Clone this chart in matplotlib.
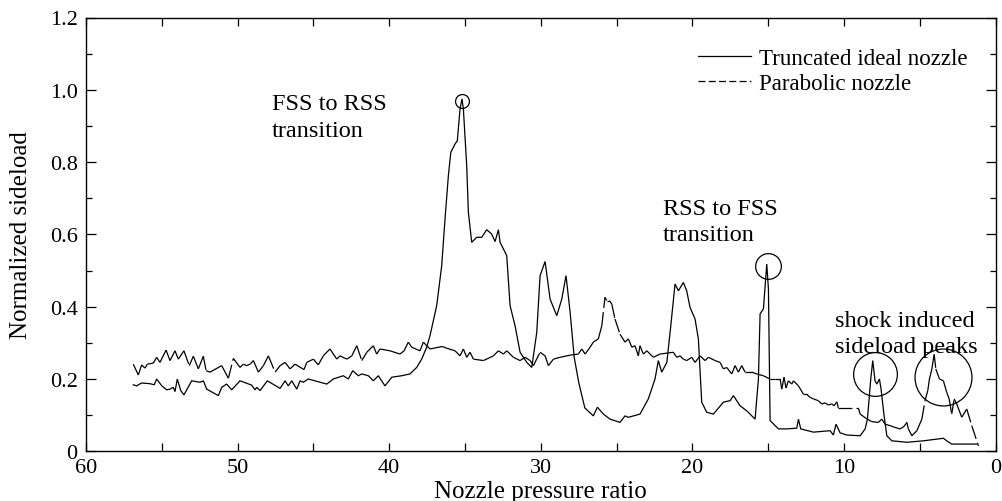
import matplotlib
matplotlib.use("Agg")
import matplotlib.pyplot as plt
from matplotlib.collections import LineCollection
from matplotlib.lines import Line2D
import numpy as np

plt.rcParams['font.family'] = ['Liberation Serif', 'DejaVu Serif']
plt.rcParams['lines.scale_dashes'] = False

# ---- data: truncated ideal nozzle (solid) ----
ideal_npr = [56.88, 56.66, 56.33, 55.78, 55.50, 55.34, 55.00, 54.68, 54.46, 54.24, 54.13, 53.98,
             53.75, 53.54, 53.03, 52.48, 52.26, 52.04, 51.27, 51.05, 50.72, 50.39, 49.84, 49.07,
             48.85, 48.74, 48.52, 48.04, 47.20, 46.87, 46.66, 46.43, 46.10, 45.88, 45.67, 45.34,
             44.12, 43.69, 43.03, 42.70, 42.41, 42.04, 41.81, 41.38, 41.05, 40.72, 40.28, 39.83,
             39.18, 38.63, 38.19, 37.86, 37.53, 37.31, 36.87, 36.54, 36.32, 36.10, 35.94, 35.66,
             35.51, 35.33, 35.20, 35.11, 34.89, 34.78, 34.56, 34.23, 33.90, 33.57, 33.24, 33.02,
             32.80, 32.69, 32.47, 32.25, 32.03, 31.70, 31.37, 30.93, 30.60, 30.27, 30.05, 29.72,
             29.39, 28.95, 28.62, 28.34, 28.07, 27.80, 27.50, 27.10, 26.54, 26.27, 25.88, 25.44,
             24.78, 24.45, 24.23, 23.46, 22.91, 22.47, 22.25, 22.03, 21.69, 21.43, 21.15, 20.93,
             20.60, 20.38, 20.16, 19.83, 19.61, 19.39, 19.06, 18.62, 17.96, 17.52, 17.30, 16.86,
             16.42, 15.87, 15.65, 15.54, 15.32, 15.10, 14.99, 14.88, 14.33, 13.78, 13.12, 13.01,
             12.86, 12.02, 10.92, 10.71, 10.53, 10.26, 9.82, 8.94, 8.61, 8.46, 8.33, 8.24,
             8.11, 7.96, 7.84, 7.67, 7.56, 7.36, 7.18, 6.85, 5.86, 4.77, 3.45, 3.23,
             2.90, 1.25]
ideal_load = [0.184, 0.181, 0.189, 0.187, 0.184, 0.200, 0.181, 0.170, 0.172, 0.177, 0.165, 0.200,
              0.168, 0.156, 0.195, 0.191, 0.195, 0.172, 0.154, 0.177, 0.186, 0.170, 0.195, 0.183,
              0.170, 0.177, 0.168, 0.195, 0.174, 0.195, 0.181, 0.195, 0.172, 0.195, 0.191, 0.200,
              0.186, 0.200, 0.209, 0.200, 0.223, 0.209, 0.214, 0.209, 0.195, 0.209, 0.181, 0.205,
              0.209, 0.214, 0.232, 0.255, 0.288, 0.320, 0.403, 0.513, 0.643, 0.762, 0.827, 0.850,
              0.859, 0.947, 0.975, 0.947, 0.790, 0.661, 0.578, 0.592, 0.592, 0.613, 0.601, 0.580,
              0.613, 0.578, 0.560, 0.541, 0.403, 0.347, 0.274, 0.246, 0.232, 0.329, 0.486, 0.525,
              0.421, 0.375, 0.421, 0.486, 0.385, 0.260, 0.190, 0.120, 0.098, 0.122, 0.103, 0.089,
              0.080, 0.098, 0.094, 0.103, 0.145, 0.200, 0.251, 0.219, 0.246, 0.347, 0.463, 0.444,
              0.467, 0.444, 0.398, 0.366, 0.311, 0.136, 0.108, 0.103, 0.136, 0.140, 0.154, 0.126,
              0.112, 0.089, 0.200, 0.380, 0.394, 0.518, 0.449, 0.085, 0.062, 0.062, 0.064, 0.089,
              0.062, 0.053, 0.057, 0.045, 0.075, 0.051, 0.045, 0.043, 0.062, 0.089, 0.154, 0.200,
              0.251, 0.195, 0.186, 0.200, 0.172, 0.098, 0.043, 0.029, 0.025, 0.029, 0.036, 0.029,
              0.020, 0.020]

# ---- data: parabolic nozzle (dashed) ----
para_npr = [56.88, 56.55, 56.33, 56.11, 55.96, 55.56, 55.34, 55.12, 54.72, 54.46, 54.13, 53.91,
            53.54, 53.19, 52.92, 52.59, 52.26, 52.08, 51.82, 51.05, 50.61, 50.28, 49.84, 49.62,
            49.40, 49.18, 48.96, 48.63, 48.30, 47.97, 47.53, 47.20, 46.87, 46.54, 46.21, 45.62,
            45.44, 45.00, 44.68, 44.35, 43.91, 43.46, 43.25, 42.80, 42.47, 42.14, 41.81, 41.48,
            41.05, 40.83, 40.61, 39.95, 39.29, 39.02, 38.74, 38.52, 37.97, 37.75, 37.53, 37.31,
            36.50, 36.20, 35.66, 35.33, 35.11, 34.89, 34.67, 34.45, 33.79, 33.13, 32.80, 32.47,
            32.25, 31.81, 31.37, 31.04, 30.71, 30.49, 30.05, 29.72, 29.50, 29.17, 28.73, 28.07,
            27.53, 27.30, 27.08, 26.75, 26.54, 26.21, 25.98, 25.77, 25.66, 25.48, 25.32, 25.11,
            24.78, 24.45, 24.23, 24.00, 23.79, 23.57, 23.46, 23.24, 23.01, 22.68, 22.58, 22.14,
            21.26, 21.04, 20.82, 20.60, 20.38, 20.05, 19.83, 19.50, 19.17, 18.95, 18.51, 18.18,
            17.96, 17.74, 17.41, 17.19, 16.97, 16.75, 16.53, 16.09, 15.76, 15.32, 14.88, 14.55,
            14.22, 14.11, 13.96, 13.83, 13.67, 13.45, 13.34, 13.01, 12.68, 12.46, 12.24, 12.02,
            11.70, 11.47, 11.25, 11.04, 10.81, 10.66, 10.48, 10.38, 9.06, 8.94, 8.55, 8.17,
            7.74, 7.51, 7.30, 6.97, 6.64, 6.31, 6.04, 5.86, 5.76, 5.53, 5.20, 4.87,
            4.66, 4.48, 4.37, 4.21, 4.06, 3.95, 3.71, 3.45, 3.23, 3.07, 2.90, 2.74,
            2.57, 2.24, 1.91, 1.58, 1.14]
para_load = [0.241, 0.211, 0.239, 0.230, 0.241, 0.244, 0.260, 0.246, 0.280, 0.251, 0.278, 0.255,
             0.278, 0.237, 0.263, 0.228, 0.263, 0.223, 0.219, 0.237, 0.202, 0.257, 0.232, 0.241,
             0.237, 0.241, 0.251, 0.219, 0.237, 0.264, 0.219, 0.237, 0.246, 0.228, 0.241, 0.226,
             0.246, 0.255, 0.239, 0.264, 0.283, 0.255, 0.264, 0.255, 0.264, 0.292, 0.251, 0.274,
             0.292, 0.269, 0.283, 0.278, 0.269, 0.278, 0.302, 0.288, 0.278, 0.302, 0.292, 0.283,
             0.290, 0.285, 0.278, 0.264, 0.283, 0.260, 0.274, 0.255, 0.251, 0.264, 0.278, 0.269,
             0.278, 0.260, 0.251, 0.260, 0.251, 0.237, 0.274, 0.264, 0.237, 0.255, 0.260, 0.266,
             0.269, 0.283, 0.269, 0.288, 0.302, 0.311, 0.347, 0.426, 0.417, 0.417, 0.407, 0.366,
             0.324, 0.302, 0.311, 0.288, 0.292, 0.264, 0.292, 0.269, 0.278, 0.264, 0.260, 0.269,
             0.274, 0.260, 0.264, 0.255, 0.251, 0.260, 0.246, 0.264, 0.251, 0.260, 0.251, 0.246,
             0.228, 0.232, 0.214, 0.237, 0.219, 0.237, 0.219, 0.219, 0.214, 0.209, 0.200, 0.200,
             0.200, 0.172, 0.205, 0.175, 0.195, 0.186, 0.195, 0.181, 0.158, 0.158, 0.149, 0.145,
             0.140, 0.131, 0.134, 0.128, 0.131, 0.126, 0.137, 0.120, 0.120, 0.103, 0.091, 0.082,
             0.080, 0.089, 0.075, 0.071, 0.066, 0.062, 0.069, 0.080, 0.062, 0.043, 0.057, 0.089,
             0.140, 0.168, 0.200, 0.228, 0.269, 0.228, 0.200, 0.195, 0.163, 0.145, 0.103, 0.145,
             0.131, 0.094, 0.117, 0.071, 0.015]

# annotation circles (npr, load, diameter in points)
circle_npr = [35.22, 14.99, 7.96, 3.45]
circle_load = [0.970, 0.513, 0.214, 0.205]
circle_size = [10, 18.5, 31.5, 41]

legend_labels = ["Truncated ideal nozzle", "Parabolic nozzle"]

FS_TICK = 16
FS_ANN = 17.5
FS_LAB = 18
FS_LEG = 16.6

fig = plt.figure(figsize=(10.03, 5.02), dpi=100)
ax = fig.add_axes([86/1003, 1-452.3/502, (995.7-86)/1003, (452.3-18.5)/502])

ax.plot(ideal_npr, ideal_load, color='black', lw=0.9, solid_joinstyle='miter')

pts = np.column_stack([para_npr, para_load])
segs = np.stack([pts[:-1], pts[1:]], axis=1)
lc = LineCollection(segs, colors='black', linewidths=0.9, linestyles=[(0, (10, 3))])
ax.add_collection(lc)

for cx, cy, cs in zip(circle_npr, circle_load, circle_size):
    ax.plot([cx], [cy], 'o', ms=cs, mfc='none', mec='black', mew=0.9)

ax.set_xlim(60, 0)
ax.set_ylim(0, 1.2)
ax.set_xticks(np.arange(0, 61, 10))
ax.set_xticks(np.arange(5, 60, 10), minor=True)
ax.set_yticks(np.arange(0, 1.21, 0.2))
ax.set_yticklabels(['0', '0.2', '0.4', '0.6', '0.8', '1.0', '1.2'])
ax.set_yticks(np.arange(0.1, 1.2, 0.2), minor=True)
ax.tick_params(which='both', direction='in', top=True, right=True, labelsize=FS_TICK, width=0.9)
ax.tick_params(axis='x', which='both', length=6, pad=5)
ax.tick_params(axis='y', which='major', length=7, pad=6)
ax.tick_params(axis='y', which='minor', length=4.5)
for s in ax.spines.values():
    s.set_linewidth(1.0)

ax.set_xlabel("Nozzle pressure ratio", fontsize=FS_LAB, labelpad=2)
ax.set_ylabel("Normalized sideload", fontsize=FS_LAB, labelpad=13)

ax.text(47.73, 0.990, "FSS to RSS\ntransition", fontsize=FS_ANN, va='top', ha='left', linespacing=1.35)
ax.text(21.94, 0.702, "RSS to FSS\ntransition", fontsize=FS_ANN, va='top', ha='left', linespacing=1.35)
ax.text(10.59, 0.392, "shock induced\nsideload peaks", fontsize=FS_ANN, va='top', ha='left', linespacing=1.35)

handles = [Line2D([], [], color='black', lw=0.9),
           Line2D([], [], color='black', lw=0.9, dashes=(5, 2.4))]
ax.legend(handles, legend_labels, loc='upper right', frameon=False, fontsize=FS_LEG,
          handlelength=2.3, handletextpad=0.35, labelspacing=0.2,
          bbox_to_anchor=(0.979, 0.952), borderaxespad=0)

fig.savefig("out.png", dpi=100)
